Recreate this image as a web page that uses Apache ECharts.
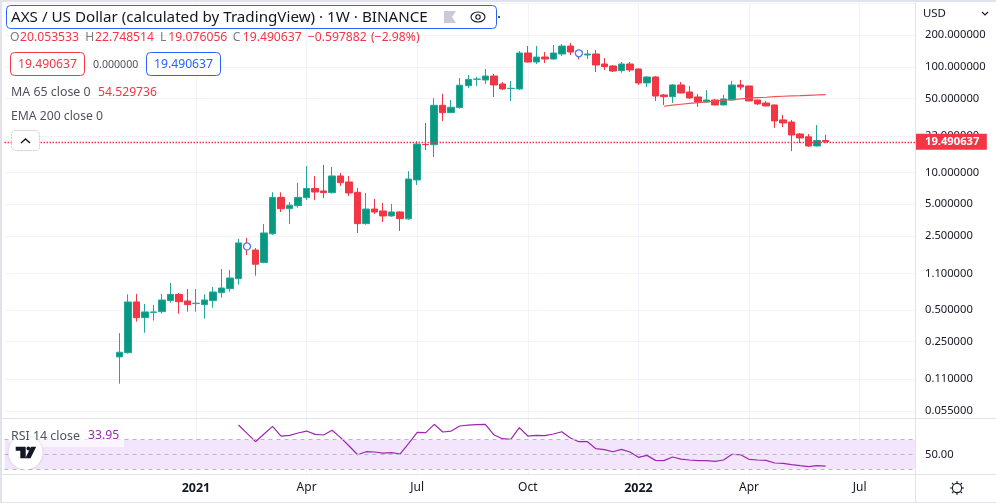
<!DOCTYPE html>
<html>
<head>
<meta charset="utf-8">
<title>AXS / US Dollar</title>
<script src="https://cdn.jsdelivr.net/npm/echarts@6/dist/echarts.min.js"></script>
<style>
  html, body { margin: 0; padding: 0; background: #fff; }
  #chart { width: 996px; height: 503px; }
</style>
</head>
<body>
<div id="chart"></div>
<script>
const firstWeek = '2020-08-03'
const weekCount = 107
const leadWeeks = 13

const opens = [0.179,0.196,0.593,0.421,0.472,0.480,0.610,0.700,0.606,0.572,0.559,0.610,0.726,0.792,0.985,2.05,1.84,1.40,2.62,5.80,4.53,4.84,5.76,7.04,6.67,6.43,9.25,8.11,6.48,3.27,4.50,4.31,3.87,4.22,3.63,8.48,18.4,18.3,43.2,36.8,41.1,66.2,76.1,75.0,81.8,68.7,62.2,61.7,135.1,111.0,123.8,118.5,132.2,157.3,139.5,129.3,132.2,106.3,101.8,91.9,106.3,95.3,70.3,80.1,54.1,52.1,67.3,57.7,51.8,46.4,48.5,43.5,48.5,67.3,65.8,48.5,45.4,43.5,31.4,30.0,23.1,21.7,17.8,20.053533]
const highs = [0.300,0.700,0.706,0.567,0.555,0.706,0.897,0.721,0.787,0.787,0.700,0.822,1.216,1.19,2.34,2.40,1.92,3.25,6.48,6.48,5.24,7.94,11.5,9.25,11.75,11.25,9.87,9.25,7.12,6.39,5.60,5.14,5.03,4.28,10.27,19.8,29.3,50.4,55.3,48.5,78.3,83.6,80.1,95.3,85.5,71.8,73.4,141.1,157.3,157.3,138.0,160.8,164.4,168.0,144.2,144.2,144.2,121.1,104.0,111.0,111.0,96.7,81.8,81.8,55.3,68.7,71.8,65.8,55.3,60.3,49.6,54.1,73.4,75.0,66.2,48.8,47.5,43.8,35.0,31.4,23.6,23.1,28.1,22.748514]
const lows = [0.0998,0.192,0.386,0.303,0.395,0.459,0.583,0.459,0.480,0.480,0.412,0.523,0.651,0.742,0.864,1.65,1.05,1.38,2.56,4.22,3.25,4.63,5.48,5.48,5.72,6.30,7.44,5.98,2.67,3.20,4.04,3.39,3.79,2.79,3.55,7.60,16.3,14.0,30.7,36.5,40.1,63.0,65.8,68.7,51.8,60.3,47.5,60.3,110.0,106.3,108.6,116.0,126.5,129.3,117.7,118.5,89.3,93.3,89.3,87.9,89.3,67.3,64.4,47.5,43.5,45.4,56.0,49.6,41.7,46.0,43.2,43.2,48.0,60.3,47.2,43.5,42.3,26.4,26.9,15.9,19.0,17.4,17.5,19.076056]
const closes = [0.198,0.593,0.421,0.477,0.477,0.619,0.700,0.596,0.559,0.577,0.619,0.737,0.804,1.00,2.15,1.92,1.35,2.67,5.80,4.53,4.89,5.80,7.04,6.52,6.43,9.25,7.99,6.39,3.27,4.50,4.22,3.87,4.22,3.65,8.66,18.56,18.3,43.2,36.8,41.4,66.9,76.1,76.6,81.8,67.3,61.7,62.6,135.1,111.0,123.8,118.5,135.1,157.3,138.0,132.2,132.2,104.0,100.3,91.2,106.3,93.3,70.3,80.1,52.9,52.1,67.3,56.5,50.7,46.4,48.5,43.5,49.6,67.3,64.4,47.5,44.5,42.6,30.7,29.4,22.6,21.2,17.8,20.05,19.490637]

const maStart = 64
const maValues = [42.3,43.3,44.2,45.0,45.7,46.6,47.5,48.2,48.8,49.6,50.4,51.0,51.5,52.1,52.6,53.0,53.3,53.7,54.1,54.529736]

const rsiStart = 14
const rsiValues = [90.0,78.7,67.3,77.8,88.2,75.0,75.9,79.1,81.8,77.3,76.4,82.8,72.8,61.4,49.5,53.6,53.2,51.8,52.3,50.5,65.0,80.0,79.6,91.0,80.5,81.8,88.7,90.0,90.5,91.0,76.8,71.4,70.5,86.4,75.0,75.9,75.5,77.8,80.9,72.3,67.3,67.3,57.7,56.4,53.6,56.8,53.2,45.9,48.6,41.8,41.4,46.4,43.6,42.3,41.4,41.4,40.5,42.3,50.0,49.5,43.2,42.3,41.8,38.2,37.7,35.9,34.5,33.2,34.5,33.95]

const markerWeeks = ['2021-02-15', '2021-11-15']
const markerPrices = [1.99, 134.2]

const priceTicks = [200, 100, 50, 22, 10, 5, 2.5, 1.1, 0.5, 0.25, 0.11, 0.055]
const priceGridTicks = [400].concat(priceTicks)
const timeTickWeeks = ['2021-01-04', '2021-04-05', '2021-07-05', '2021-10-04', '2022-01-03', '2022-04-04', '2022-07-04']
const timeTickLabels = ['{b|2021}', 'Apr', 'Jul', 'Oct', '{b|2022}', 'Apr', 'Jul']
const rsiBands = [70, 50, 30]
const lastPrice = 19.490637

const FONT = '"Noto Sans", sans-serif'
const UP = '#089981'
const UP_WICK = '#26a69a'
const DOWN = '#f23645'
const GRID = '#f0f3fa'
const FRAME = '#e0e3eb'

const weeks = []
for (let i = 0; i < weekCount; i++) {
  const d = new Date(firstWeek + 'T00:00:00Z')
  d.setUTCDate(d.getUTCDate() + i * 7)
  weeks.push(d.toISOString().slice(0, 10))
}

const candles = opens.map((o, i) => ({
  value: [leadWeeks + i, o, closes[i], lows[i], highs[i]]
}))
const maLine = maValues.map((v, i) => [weeks[leadWeeks + maStart + i], v])
const rsiLine = rsiValues.map((v, i) => [weeks[leadWeeks + rsiStart + i], v])
const markers = markerWeeks.map((w, i) => [w, markerPrices[i]])

const isTimeTick = (i) => timeTickWeeks.includes(weeks[i])

function baseXAxis(gridIndex, showLabels) {
  return {
    type: 'category',
    gridIndex,
    data: weeks,
    axisLine: { show: showLabels, lineStyle: { color: FRAME, width: 1 } },
    axisTick: { show: false },
    splitLine: { show: true, interval: (i) => isTimeTick(i), alignWithLabel: true, lineStyle: { color: GRID } },
    axisLabel: {
      show: showLabels,
      interval: (i) => isTimeTick(i),
      margin: 8,
      color: '#131722',
      fontFamily: FONT,
      fontSize: 12,
      formatter: (v) => timeTickLabels[timeTickWeeks.indexOf(v)],
      rich: { b: { fontWeight: 'bold', fontFamily: FONT, fontSize: 12.5, color: '#131722' } }
    }
  }
}

function text(x, y, str, fill, size, extra) {
  return {
    type: 'text', x, y, z: 60, silent: true,
    style: Object.assign({ text: str, fill, font: (size || 12.2) + 'px ' + FONT, verticalAlign: 'middle' }, extra)
  }
}
function box(x, y, w, h, stroke, extra) {
  return {
    type: 'rect', z: 55, silent: true,
    shape: { x, y, width: w, height: h, r: 4 },
    style: Object.assign({ fill: '#fff', stroke, lineWidth: 1 }, extra)
  }
}
function line(x1, y1, x2, y2, stroke, lineWidth) {
  return { type: 'line', z: 70, silent: true, shape: { x1, y1, x2, y2 }, style: { stroke, lineWidth: lineWidth || 1 } }
}
function poly(points, stroke, lineWidth) {
  return { type: 'polyline', z: 60, silent: true, shape: { points }, style: { stroke, lineWidth: lineWidth || 1.3, fill: null } }
}

const gearRays = [[957, 481, 957, 483], [957, 493, 957, 495], [950, 488, 952, 488], [962, 488, 964, 488],
  [952, 483, 953.4, 484.4], [960.6, 491.6, 962, 493], [952, 493, 953.4, 491.6], [960.6, 484.4, 962, 483]]

const overlays = [
  // outer frame and pane separators
  line(0, 1, 996, 1, FRAME, 2),
  line(1, 0, 1, 503, FRAME, 2),
  line(0, 502.5, 996, 502.5, FRAME, 1),
  line(0, 418.5, 996, 418.5, FRAME, 1),
  line(0, 474.5, 996, 474.5, FRAME, 1),
  line(915.5, 0, 915.5, 503, FRAME, 1),

  // symbol title
  box(6.5, 5.5, 490, 23, '#2962ff'),
  text(11, 17.5, 'AXS / US Dollar (calculated by TradingView) · 1W · BINANCE', '#131722', 15.2),
  { type: 'polygon', z: 60, silent: true, shape: { points: [[444, 11], [456, 11], [452, 17], [456, 23], [444, 23]] }, style: { fill: '#c9cad6' } },
  { type: 'ellipse', z: 60, silent: true, shape: { cx: 478, cy: 17, rx: 7, ry: 5 }, style: { fill: 'none', stroke: '#131722', lineWidth: 1.1 } },
  { type: 'circle', z: 60, silent: true, shape: { cx: 478, cy: 17, r: 2.2 }, style: { fill: 'none', stroke: '#131722', lineWidth: 1.1 } },
  { type: 'circle', z: 60, silent: true, shape: { cx: 499, cy: 17, r: 1 }, style: { fill: '#131722' } },

  // OHLC row
  text(10, 38, 'O', '#787b86'), text(20, 38, '20.053533', DOWN),
  text(85.3, 38, 'H', '#787b86'), text(95, 38, '22.748514', DOWN),
  text(160, 38, 'L', '#787b86'), text(168.3, 38, '19.076056', DOWN),
  text(232.7, 38, 'C', '#787b86'), text(242.7, 38, '19.490637', DOWN),
  text(307.7, 38, '−0.597882', DOWN), text(371, 38, '(−2.98%)', DOWN),

  // bid / ask boxes
  box(10.5, 52.5, 74, 23, DOWN),
  text(47.5, 64.5, '19.490637', DOWN, 12.2, { align: 'center' }),
  text(93, 64.5, '0.000000', '#50535e', 10.6),
  box(146.5, 52.5, 74, 23, '#2962ff'),
  text(183.5, 64.5, '19.490637', '#2962ff', 12.2, { align: 'center' }),

  // indicator legends
  text(11, 92.5, 'MA 65 close 0', '#50535e', 12.4),
  text(98, 92.5, '54.529736', DOWN),
  text(11, 116.5, 'EMA 200 close 0', '#50535e', 12.2),
  box(11.5, 130.5, 28, 20, '#c9cad6', { lineDash: [2, 1] }),
  poly([[21, 143], [25.5, 139], [30, 143]], '#131722', 1.4),

  // RSI legend and logo
  { type: 'rect', z: 50, silent: true, shape: { x: 10, y: 427, width: 114, height: 20 }, style: { fill: 'rgba(255,255,255,0.6)' } },
  text(11, 436, 'RSI 14 close', '#50535e', 12.4),
  text(88, 436, '33.95', '#9c27b0', 12.2),
  { type: 'circle', z: 55, silent: true, shape: { cx: 25.5, cy: 452.5, r: 17 },
    style: { fill: '#fff', shadowBlur: 3, shadowColor: 'rgba(0,0,0,0.15)' } },
  { type: 'polygon', z: 60, silent: true, shape: { points: [[15.7, 446.7], [25.7, 446.7], [25.7, 458.3], [20.3, 458.3], [20.3, 450.7], [15.7, 450.7]] }, style: { fill: '#131722' } },
  { type: 'circle', z: 60, silent: true, shape: { cx: 28.4, cy: 448.5, r: 1.9 }, style: { fill: '#131722' } },
  { type: 'polygon', z: 60, silent: true, shape: { points: [[31, 446.7], [36.2, 446.7], [30.5, 458.3], [25.3, 458.3]] }, style: { fill: '#131722' } },

  // price scale header and settings
  text(923, 14, 'USD', '#131722', 11.4),
  poly([[982, 12], [985, 15], [988, 12]], '#131722', 1.1),
  { type: 'circle', z: 60, silent: true, shape: { cx: 957, cy: 488, r: 4.6 }, style: { fill: 'none', stroke: '#131722', lineWidth: 1.1 } }
].concat(gearRays.map((r) => line(r[0], r[1], r[2], r[3], '#131722', 1.1)))

const chart = echarts.init(document.getElementById('chart'), null, { renderer: 'canvas' })

chart.setOption({
  animation: false,
  backgroundColor: '#fff',
  textStyle: { fontFamily: FONT },
  grid: [
    { left: 4.5, right: 81, top: 3, height: 415 },
    { left: 4.5, right: 81, top: 419, height: 55 }
  ],
  xAxis: [baseXAxis(0, false), baseXAxis(1, true)],
  yAxis: [
    {
      type: 'log',
      logBase: 10,
      gridIndex: 0,
      position: 'right',
      min: 0.04721,
      max: 401.9,
      axisLine: { show: false },
      axisTick: { show: false, customValues: priceGridTicks },
      splitLine: { show: true, customValues: priceGridTicks, lineStyle: { color: GRID } },
      axisLabel: {
        customValues: priceTicks,
        margin: 10,
        color: '#131722',
        fontFamily: FONT,
        fontSize: 11.2,
        formatter: (v) => Number(v).toFixed(6)
      }
    },
    {
      type: 'value',
      gridIndex: 1,
      position: 'right',
      min: 23.2,
      max: 98.26,
      axisLine: { show: false },
      axisTick: { show: false },
      splitLine: { show: false },
      axisLabel: {
        customValues: [50],
        margin: 10,
        color: '#131722',
        fontFamily: FONT,
        fontSize: 11.2,
        formatter: (v) => Number(v).toFixed(2)
      }
    }
  ],
  series: [
    {
      type: 'candlestick',
      xAxisIndex: 0,
      yAxisIndex: 0,
      barWidth: 7,
      encode: { x: 0, y: [1, 2, 3, 4] },
      data: candles,
      itemStyle: { color: UP, color0: DOWN, borderColor: UP_WICK, borderColor0: DOWN, borderWidth: 1 },
      markLine: {
        silent: true,
        symbol: 'none',
        animation: false,
        lineStyle: { color: DOWN, type: [1.5, 1.5], width: 1.4 },
        label: {
          position: 'end',
          distance: 0,
          formatter: lastPrice.toFixed(6),
          color: '#fff',
          backgroundColor: DOWN,
          fontFamily: FONT,
          fontSize: 11.2,
          fontWeight: 'bold',
          padding: [2.5, 7.5, 2.5, 10]
        },
        data: [{ yAxis: lastPrice }]
      }
    },
    {
      type: 'line',
      name: 'MA 65',
      xAxisIndex: 0,
      yAxisIndex: 0,
      data: maLine,
      symbol: 'none',
      lineStyle: { color: '#ef5350', width: 1.2 }
    },
    {
      type: 'scatter',
      xAxisIndex: 0,
      yAxisIndex: 0,
      data: markers,
      symbol: 'circle',
      symbolSize: 7,
      itemStyle: { color: '#fff', borderColor: '#4a7bf0', borderWidth: 1.3, opacity: 1 }
    },
    {
      type: 'line',
      name: 'RSI 14',
      xAxisIndex: 1,
      yAxisIndex: 1,
      data: rsiLine,
      symbol: 'none',
      lineStyle: { color: '#9c27b0', width: 1.2 },
      markArea: {
        silent: true,
        itemStyle: { color: '#f3e6fc', opacity: 1 },
        data: [[{ yAxis: rsiBands[2] }, { yAxis: rsiBands[0] }]]
      },
      markLine: {
        silent: true,
        symbol: 'none',
        animation: false,
        label: { show: false },
        lineStyle: { color: '#b8b6c2', type: [4, 4], width: 1 },
        data: rsiBands.map((v) => ({ yAxis: v }))
      }
    }
  ],
  graphic: { elements: overlays }
})
</script>
</body>
</html>
